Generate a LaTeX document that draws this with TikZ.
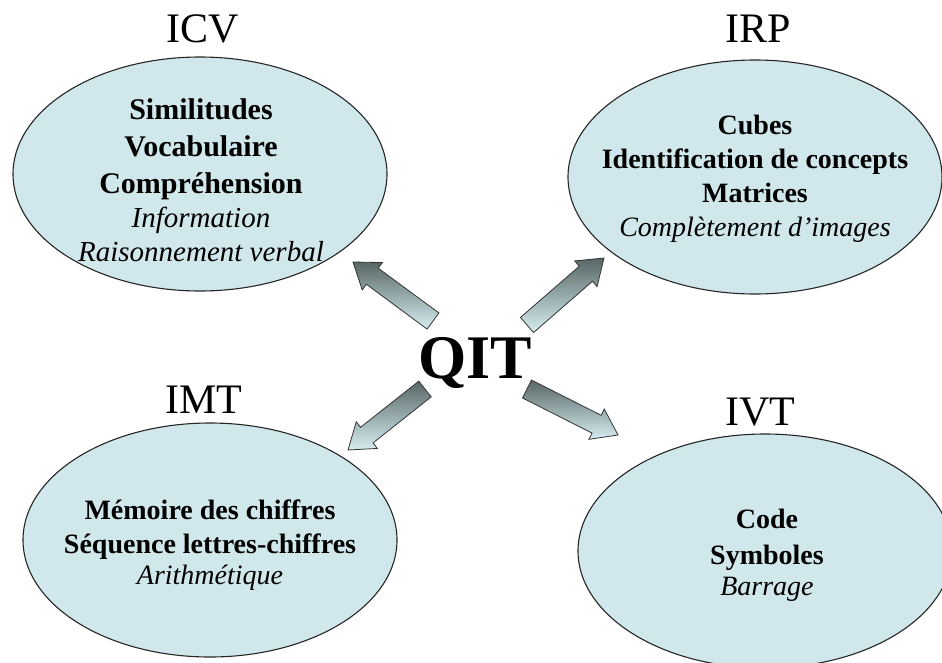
\documentclass[tikz,border=0pt]{standalone}
\usepackage{fontspec}
\setmainfont{Liberation Serif}
\usetikzlibrary{shapes.geometric,calc}
\definecolor{ellfill}{RGB}{208,232,235}
\definecolor{arrdark}{RGB}{88,102,102}
\definecolor{arrlight}{RGB}{214,238,240}
\newcommand\fatarrow[2]{%
  \path ($(#2)!24pt!(#1)$) coordinate (fneck);
  \shade[arrowbody] ($(#1)!10pt!90:(#2)$) -- ($(fneck)!10pt!90:(#2)$) -- ($(fneck)!17pt!90:(#2)$) -- (#2) -- ($(fneck)!17pt!-90:(#2)$) -- ($(fneck)!10pt!-90:(#2)$) -- ($(#1)!10pt!-90:(#2)$) -- cycle;}
\begin{document}
\begin{tikzpicture}[x=1pt,y=-1pt,
  bubble/.style={ellipse,draw=black!85,line width=1.1pt,fill=ellfill,minimum width=374pt,minimum height=234pt,inner sep=0pt},
  bubbletext/.style={align=center,inner sep=0pt},
  grouplabel/.style={font=\fontsize{42}{42}\selectfont,anchor=base,inner sep=0pt},
  arrowbody/.style={top color=arrdark,bottom color=arrlight,draw=black!80,line width=0.8pt,line join=miter}]
\clip (0,0) rectangle (942,662);
\fill[white] (0,0) rectangle (942,662);
% bubbles
\node[bubble] (icv) at (200,174) {};
\node[bubble] (irp) at (755,177) {};
\node[bubble] (imt) at (210,540) {};
\node[bubble] (ivt) at (765,551) {};
% bubble texts
\node[bubbletext,font=\fontsize{30}{37.5}\selectfont] (icvtext) at (201,180) {\bfseries Similitudes\\\bfseries Vocabulaire\\[-1pt]\bfseries Compréhension\\[-3pt]\fontsize{29}{34}\selectfont\itshape Information\\[-4pt]\fontsize{29}{34}\selectfont\itshape Raisonnement verbal};
\node[bubbletext,font=\fontsize{28}{34}\selectfont] (irptext) at (755,179) {\bfseries Cubes\\\bfseries Identification de concepts\\\bfseries Matrices\\\itshape Complètement d'images};
\node[bubbletext,font=\fontsize{28}{34}\selectfont] (imttext) at (210,545) {\bfseries Mémoire des chiffres\\\bfseries Séquence lettres-chiffres\\[-3pt]\itshape Arithmétique};
\node[bubbletext,font=\fontsize{28}{36}\selectfont] (ivttext) at (767,555) {\bfseries Code\\\bfseries Symboles\\[-5pt]\itshape Barrage};
% labels
\node[grouplabel] (licv) at (203,42) {ICV};
\node[grouplabel] (lirp) at (758,42) {IRP};
\node[grouplabel] (limt) at (204,413) {IMT};
\node[grouplabel] (livt) at (760,425) {IVT};
% centre
\node[anchor=base,inner sep=0pt,font=\fontsize{62}{62}\selectfont\bfseries] (qit) at (475,378) {QIT};
% arrows
\coordinate (t1) at (433,321); \coordinate (h1) at (353,262);
\coordinate (t2) at (527,325); \coordinate (h2) at (604,258);
\coordinate (t3) at (425,389); \coordinate (h3) at (348,450);
\coordinate (t4) at (527,389); \coordinate (h4) at (618,435);
\fatarrow{t1}{h1}
\fatarrow{t2}{h2}
\fatarrow{t3}{h3}
\fatarrow{t4}{h4}
\end{tikzpicture}
\end{document}
